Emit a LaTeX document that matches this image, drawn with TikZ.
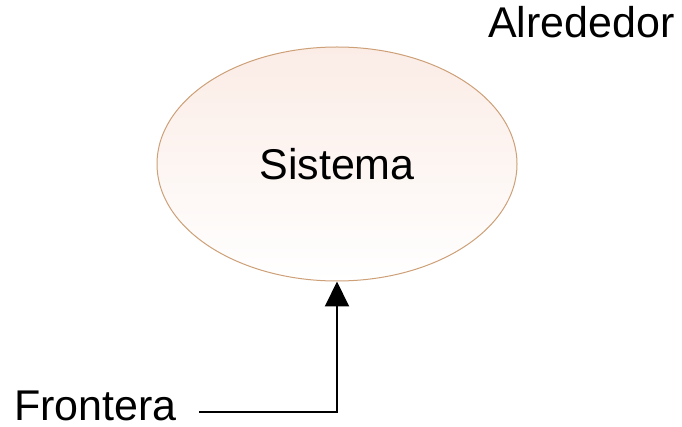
\documentclass[tikz,border=0pt]{standalone}
\usepackage{fontspec}
\setmainfont{Liberation Sans}
\usepackage{xcolor}
\usetikzlibrary{
	arrows.meta,
	shapes.geometric,
	positioning
}
\definecolor{RimBrown}{RGB}{205,160,120}
\definecolor{SoftPink}{RGB}{251,236,230}

\begin{document}
\begin{tikzpicture}[x=1pt, y=-1pt,
		label text/.style={font=\fontsize{43}{48}\selectfont, inner sep=0pt},
		pointer/.style={line width=2pt, -{Triangle[length=25pt, width=24pt]}}]
		\useasboundingbox (0,0) rectangle (682,427);
		\node[ellipse, draw=RimBrown, line width=1pt, top color=SoftPink, bottom color=white,
			minimum width=360pt, minimum height=234pt, label text] (sistema) at (337,164) {Sistema};
		\node[label text, anchor=base west] (alrededor) at (488,38) {Alrededor};
		\node[label text, anchor=base west] (frontera) at (14,420) {Frontera};
		\draw[pointer, shorten <=22pt] ([yshift=-7pt]frontera.east) -| (sistema.south);
	\end{tikzpicture}
\end{document}
